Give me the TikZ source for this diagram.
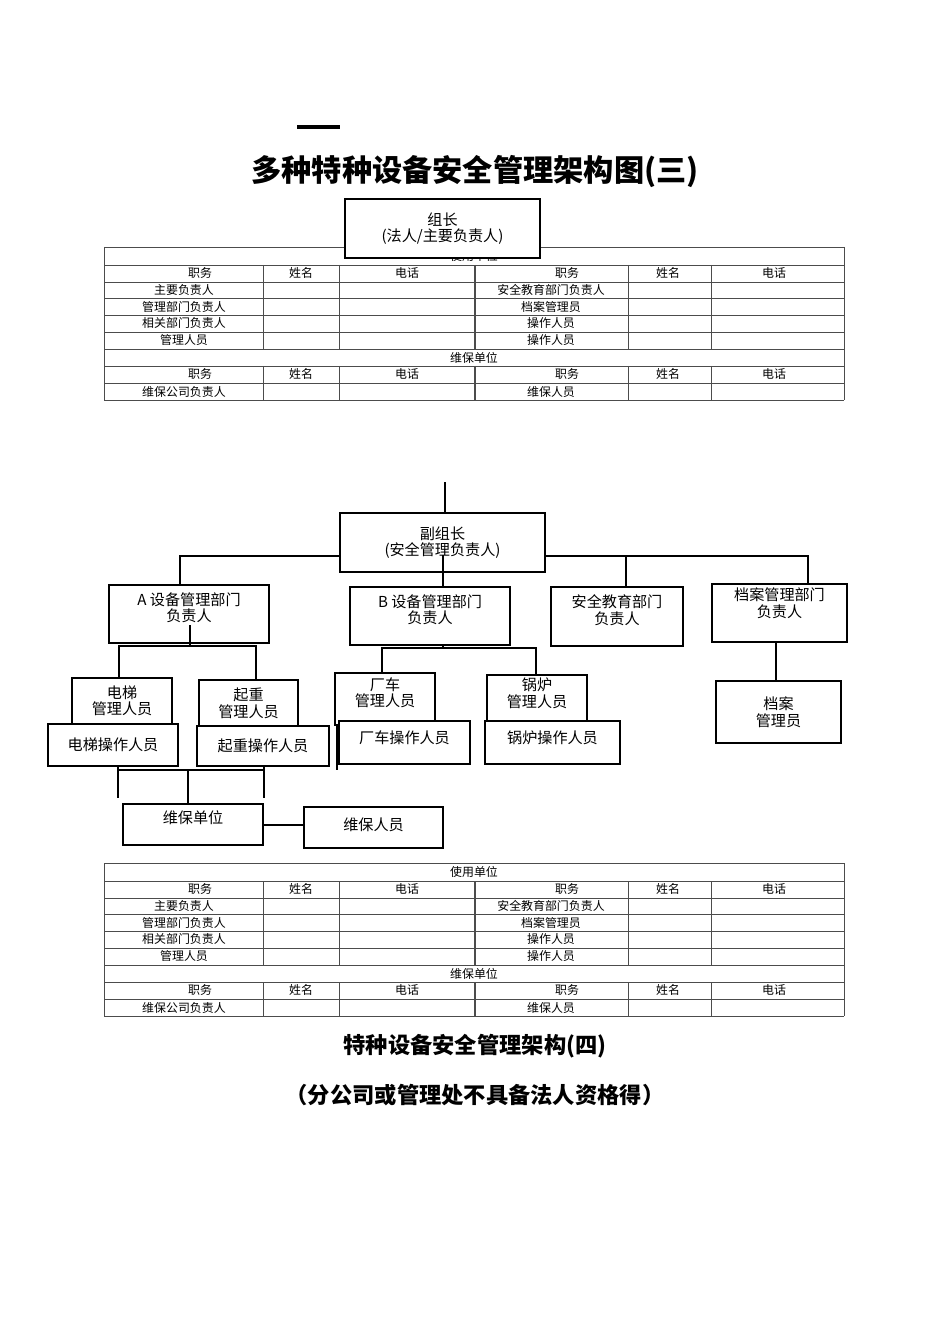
\documentclass[tikz,border=0pt]{standalone}
\usepackage{fontspec}
\setmainfont{Liberation Serif}
\newfontfamily\cjk{Noto Sans CJK SC}
\usetikzlibrary{fit}
\begin{document}
\begin{tikzpicture}[x=0.0221cm,y=-0.0221cm,
  bx/.style={draw,line width=1.3pt,inner sep=0pt},
  tx/.style={font=\cjk\fontsize{9.5}{10.5}\selectfont,align=center,inner sep=0pt},
  tt/.style={font=\cjk\fontsize{7.5}{8}\selectfont,inner sep=0pt},
  ln/.style={line width=1.3pt},
  grid/.style={draw=black!70,line width=0.4pt}]
\useasboundingbox (0,0) rectangle (950,1344);
\newcommand{\mytab}[2]{%
 \begin{scope}[yshift=#1]
  \foreach \yy in {247,265,282,298,315,332,349,366,383,400} \draw[grid] (104,\yy)--(844,\yy);
  \draw[grid] (104,247)--(104,400) (844,247)--(844,400);
  \foreach \xx in {263,339,628,711}{\draw[grid] (\xx,265)--(\xx,349); \draw[grid] (\xx,366)--(\xx,400);}
  \draw[line width=1pt,black!70] (475,265)--(475,349) (475,366)--(475,400);
  \node[tt] at (474,256) {#2};
  \node[tt] at (474,358) {维保单位};
  \foreach \a/\b in {0/0,367/367}{
   \node[tt] at (200+\a,374) {职务}; \node[tt] at (301+\a,374) {姓名}; \node[tt] at (407+\a,374) {电话};
   \node[tt] at (200+\b,273) {职务}; \node[tt] at (301+\b,273) {姓名}; \node[tt] at (407+\b,273) {电话};}
  \node[tt] at (184,290) {主要负责人}; \node[tt] at (184,307) {管理部门负责人};
  \node[tt] at (184,323) {相关部门负责人}; \node[tt] at (184,340) {管理人员};
  \node[tt] at (551,290) {安全教育部门负责人}; \node[tt] at (551,307) {档案管理员};
  \node[tt] at (551,323) {操作人员}; \node[tt] at (551,340) {操作人员};
  \node[tt] at (184,392) {维保公司负责人}; \node[tt] at (551,392) {维保人员};
 \end{scope}}
\mytab{0}{使用单位}
\mytab{-616*0.0221cm}{使用单位}
\draw[line width=2.5pt] (297,127)--(340,127);
\node[font=\cjk\bfseries\fontsize{19}{22}\selectfont] (title) at (475,172) {多种特种设备安全管理架构图(三)};
\node[bx,fill=white,fit={(345,199) (540,258)}] (zz) {};
\node[tx] at (zz.center) {组长\\(法人/主要负责人)};
% middle
\node[bx,fit={(340,513) (545,572)}] (fz) {}; \node[tx] at (fz.center) {副组长\\(安全管理负责人)};
\node[bx,fit={(109,585) (269,643)}] (A) {}; \node[tx] at ([yshift=4pt]A.center) {A 设备管理部门\\负责人};
\node[bx,fit={(350,587) (510,645)}] (B) {}; \node[tx] at ([yshift=4pt]B.center) {B 设备管理部门\\负责人};
\node[bx,fit={(551,587) (683,646)}] (S) {}; \node[tx] at ([yshift=4pt]S.center) {安全教育部门\\负责人};
\node[bx,fit={(712,584) (847,642)}] (D) {}; \node[tx] at ([yshift=6pt]D.center) {档案管理部门\\负责人};
\node[bx,fit={(72,678) (172,730)}] (e1) {}; \node[tx] at ([yshift=2pt]e1.center) {电梯\\管理人员};
\node[bx,fit={(199,680) (298,733)}] (q1) {}; \node[tx] at ([yshift=2pt]q1.center) {起重\\管理人员};
\node[bx,fit={(335,673) (435,725)}] (c1) {}; \node[tx] at ([yshift=4pt]c1.center) {厂车\\管理人员};
\node[bx,fit={(487,675) (587,725)}] (g1) {}; \node[tx] at ([yshift=4pt]g1.center) {锅炉\\管理人员};
\node[bx,fill=white,fit={(48,724) (178,766)}] (e2) {}; \node[tx] at (e2.center) {电梯操作人员};
\node[bx,fill=white,fit={(197,726) (329,766)}] (q2) {}; \node[tx] at (q2.center) {起重操作人员};
\node[bx,fill=white,fit={(339,721) (470,764)}] (c2) {}; \node[tx] at ([yshift=3pt]c2.center) {厂车操作人员};
\node[bx,fill=white,fit={(485,721) (620,764)}] (g2) {}; \node[tx] at ([yshift=3pt]g2.center) {锅炉操作人员};
\node[bx,fit={(716,681) (841,743)}] (dg) {}; \node[tx] at (dg.center) {档案\\管理员};
\node[bx,fit={(123,804) (263,845)}] (wb) {}; \node[tx] at ([yshift=4pt]wb.center) {维保单位};
\node[bx,fit={(304,807) (443,848)}] (wr) {}; \node[tx] at ([yshift=2pt]wr.center) {维保人员};
\draw[ln] (445,482)--(fz.north -| 445,0);
\draw[ln] (443,555)--(B.north -| 443,0);
\draw[ln] (fz.west |- 0,556)--(180,556)--(A.north -| 180,0);
\draw[ln] (fz.east |- 0,556)--(808,556)--(D.north -| 808,0);
\draw[ln] (626,556)--(S.north -| 626,0);
\draw[ln] (190,625)--(190,646);
\draw[ln] (119,678)--(119,646)--(256,646)--(256,680);
\draw[ln] (A.south -| 190,0)--(190,646);
\draw[ln] (B.south -| 443,0)--(443,648);
\draw[ln] (c1.north -| 382,0)--(382,648)--(536,648)--(g1.north -| 536,0);
\draw[ln] (337,725)--(337,770);
\draw[ln] (D.south -| 776,0)--(dg.north -| 776,0);
\draw[ln] (e2.south -| 118,0)--(118,798);
\draw[ln] (q2.south -| 264,0)--(264,798);
\draw[ln] (118,770)--(264,770);
\draw[ln] (188,770)--(wb.north -| 188,0);
\draw[ln] (wb.east |- 0,825)--(wr.west |- 0,825);
\node[font=\cjk\bfseries\fontsize{14}{16}\selectfont] (t2) at (475,1046) {特种设备安全管理架构(四)};
\node[font=\cjk\bfseries\fontsize{14}{16}\selectfont] (t3) at (475,1095) {（分公司或管理处不具备法人资格得）};
\end{tikzpicture}
\end{document}
